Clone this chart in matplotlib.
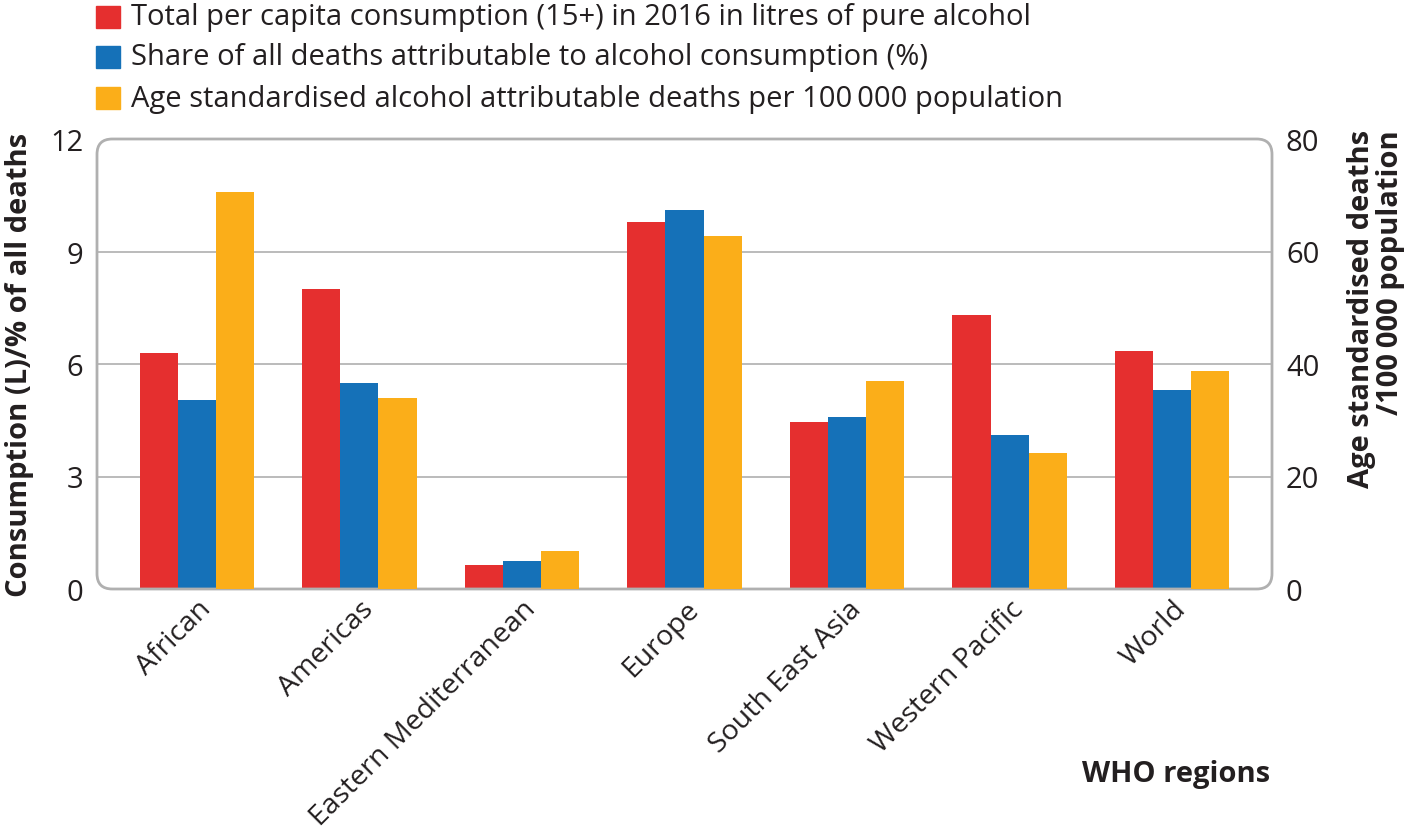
import matplotlib
matplotlib.use("Agg")
import matplotlib.pyplot as plt
import numpy as np
from matplotlib.patches import FancyBboxPatch, Rectangle

regions = ["African", "Americas", "Eastern Mediterranean", "Europe",
           "South East Asia", "Western Pacific", "World"]
consumption = [6.3, 8.0, 0.65, 9.8, 4.45, 7.3, 6.35]
share_deaths = [5.05, 5.5, 0.75, 10.1, 4.6, 4.1, 5.3]
age_std_deaths = [70.6, 34.0, 6.8, 62.7, 37.0, 24.1, 38.8]

legend_labels = [
    "Total per capita consumption (15+) in 2016 in litres of pure alcohol",
    "Share of all deaths attributable to alcohol consumption (%)",
    "Age standardised alcohol attributable deaths per 100\u2009000 population",
]
left_ticks = [0, 3, 6, 9, 12]
right_ticks = [0, 20, 40, 60, 80]

RED = "#e52f2f"
BLUE = "#1571b8"
YELLOW = "#fbae19"
TXT = "#231f20"
FRAME = "#b0b0b0"
GRID = "#b5b5b5"

plt.rcParams["font.family"] = ["Open Sans", "DejaVu Sans"]

W, H = 1410, 837
fig = plt.figure(figsize=(W / 100, H / 100), dpi=100)
ax = fig.add_axes([97 / W, 1 - 590 / H, 1175 / W, 450 / H])
ax2 = ax.twinx()

x = np.arange(len(regions))
w = 0.234
ax.bar(x - w, consumption, w, color=RED, zorder=3)
ax.bar(x, share_deaths, w, color=BLUE, zorder=3)
ax2.bar(x + w, age_std_deaths, w, color=YELLOW, zorder=3)

ax.set_xlim(-0.615, 6.615)
ax.set_ylim(0, 12)
ax2.set_ylim(0, 80)
ax.set_yticks(left_ticks)
ax2.set_yticks(right_ticks)
ax.set_yticklabels([str(t) for t in left_ticks], fontsize=21, color=TXT)
ax2.set_yticklabels([str(t) for t in right_ticks], fontsize=21, color=TXT)
ax.tick_params(axis="y", length=0, pad=10)
ax2.tick_params(axis="y", length=0, pad=10)
ax.set_xticks(x)
ax.set_xticklabels(regions, rotation=45, ha="right", rotation_mode="anchor",
                   fontsize=20.5, color=TXT)
ax.tick_params(axis="x", length=0, pad=4)

for a in (ax, ax2):
    for s in a.spines.values():
        s.set_visible(False)
    a.set_facecolor("none")

for t in [3, 6, 9]:
    ax.axhline(t, color=GRID, lw=1.3, zorder=1)

frame = FancyBboxPatch((0, 0), 1, 1, boxstyle="round,pad=0,rounding_size=0.013",
                       transform=ax.transAxes, fill=False, edgecolor=FRAME,
                       lw=2.0, zorder=4, clip_on=False,
                       mutation_aspect=1175 / 450)
ax.add_patch(frame)

fig.text(20 / W, 1 - 365 / H, "Consumption (L)/% of all deaths", fontsize=21,
         fontweight="bold", color=TXT, rotation=90, ha="center", va="center")
fig.text(1376 / W, 1 - 130 / H, "Age standardised deaths\n/100\u2009000 population",
         fontsize=21, fontweight="bold", color=TXT, rotation=90, ha="center",
         va="top", multialignment="right", linespacing=1.0)

fig.text(1270 / W, 1 - 775 / H, "WHO regions", fontsize=21,
         fontweight="bold", color=TXT, ha="right", va="center")

# legend
colors = [RED, BLUE, YELLOW]
ys = [18, 58, 99]
for c, lab, yy in zip(colors, legend_labels, ys):
    fig.patches.append(Rectangle((96 / W, 1 - (yy + 11) / H), 24 / W,
                                 22 / H, transform=fig.transFigure,
                                 color=c, figure=fig))
    fig.text(131 / W, 1 - yy / H, lab, fontsize=21, color=TXT,
             ha="left", va="center")

fig.savefig("out.png", dpi=100, facecolor="white")
